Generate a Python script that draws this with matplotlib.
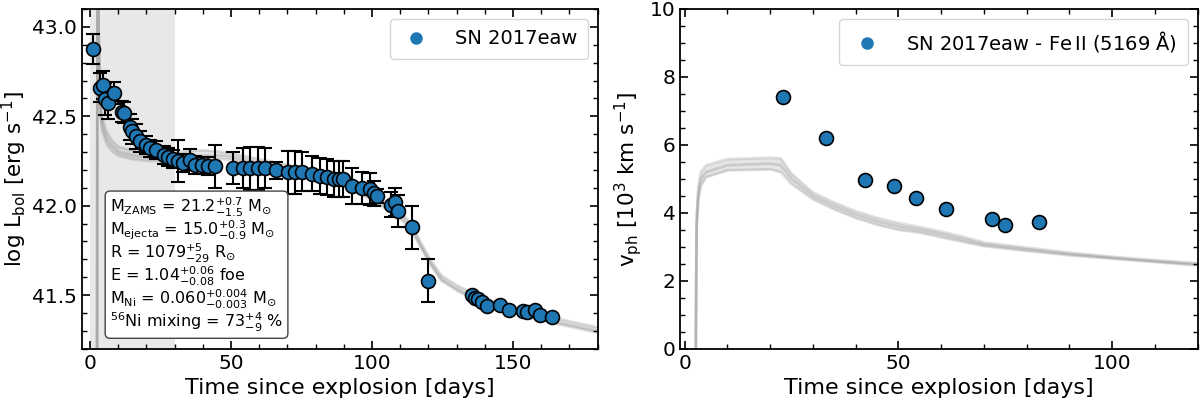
import matplotlib
matplotlib.use('Agg')
import matplotlib.pyplot as plt
from matplotlib.lines import Line2D
from matplotlib.ticker import MultipleLocator
import numpy as np

# bolometric light curve of SN 2017eaw
lc_t = [1.2, 3.5, 4.5, 5.3, 6.2, 8.4, 11.2, 12.2, 14.2, 15.0, 16.2, 17.7, 19.7,
        21.3, 23.3, 26.3, 27.8, 29.5, 31.3, 33.1, 35.5, 37.2, 39.6, 41.9, 44.3,
        50.8, 54.4, 56.7, 59.7, 62.1, 65.8, 70.3, 72.7, 75.3, 78.6, 81.5, 84.0,
        86.5, 88.3, 89.8, 92.8, 96.3, 99.3, 100.8, 101.6, 106.9, 108.2, 109.1,
        114.0, 120.0, 135.3, 136.5, 137.7, 138.9, 140.6, 145.4, 148.6, 153.7,
        154.8, 157.8, 159.6, 163.7]
lc_L = [42.876, 42.66, 42.675, 42.595, 42.573, 42.63, 42.526, 42.52, 42.44,
        42.415, 42.387, 42.36, 42.34, 42.32, 42.31, 42.285, 42.27, 42.26, 42.25,
        42.24, 42.257, 42.23, 42.225, 42.224, 42.22, 42.21, 42.21, 42.21, 42.21,
        42.21, 42.197, 42.186, 42.186, 42.19, 42.18, 42.167, 42.16, 42.15, 42.15,
        42.15, 42.11, 42.10, 42.094, 42.07, 42.056, 42.006, 42.02, 41.97, 41.88,
        41.58, 41.50, 41.486, 41.477, 41.46, 41.44, 41.445, 41.417, 41.41, 41.406,
        41.415, 41.39, 41.378]
lc_err = [0.085, 0.08, 0.08, 0.09, 0.09, 0.06, 0.06, 0.06, 0.07, 0.07, 0.07,
          0.06, 0.05, 0.05, 0.05, 0.05, 0.05, 0.05, 0.12, 0.05, 0.06, 0.05, 0.05,
          0.05, 0.12, 0.09, 0.11, 0.12, 0.12, 0.11, 0.05, 0.12, 0.12, 0.11, 0.10,
          0.10, 0.10, 0.10, 0.10, 0.10, 0.10, 0.09, 0.09, 0.07, 0.04, 0.07, 0.08,
          0.09, 0.12, 0.12, 0, 0, 0, 0, 0, 0, 0, 0, 0, 0, 0, 0]

# Fe II 5169 velocities
vel_t = [23.1, 33.1, 42.1, 48.9, 54.1, 61.1, 72.0, 75.0, 83.0]
vel_v = [7.40, 6.19, 4.96, 4.79, 4.44, 4.11, 3.81, 3.65, 3.73]

# best-fitting model bundle (lower / middle / upper envelope)
mod_lc_t = [2.4, 2.7, 3.0, 3.5, 4.2, 6.0, 8.0, 10.0, 15.0, 20.0, 25.0, 30.0,
            40.0, 48.0, 60.0, 70.0, 80.0, 88.0, 92.7, 100.0, 105.0, 109.3, 114.0,
            117.5, 120.7, 124.6, 130.6, 140.2, 156.5, 180.0]
mod_lc_lo = [40.0, 44.0, 43.0, 42.55, 42.42, 42.34, 42.30, 42.28, 42.26, 42.25,
             42.25, 42.25, 42.26, 42.26, 42.23, 42.20, 42.17, 42.13, 42.09, 42.03,
             41.98, 41.94, 41.86, 41.76, 41.67, 41.58, 41.52, 41.45, 41.37, 41.29]
mod_lc_mid = [40.0, 44.0, 43.0, 42.58, 42.46, 42.37, 42.33, 42.30, 42.28, 42.27,
              42.27, 42.27, 42.28, 42.28, 42.24, 42.21, 42.18, 42.14, 42.10, 42.04,
              41.99, 41.96, 41.88, 41.77, 41.68, 41.59, 41.53, 41.46, 41.38, 41.30]
mod_lc_hi = [40.0, 44.0, 43.0, 42.62, 42.50, 42.41, 42.36, 42.33, 42.31, 42.30,
             42.30, 42.30, 42.31, 42.30, 42.26, 42.23, 42.19, 42.16, 42.12, 42.06,
             42.01, 41.98, 41.90, 41.79, 41.70, 41.61, 41.55, 41.48, 41.40, 41.32]

mod_v_t = [2.6, 2.8, 3.2, 3.8, 5.0, 10.0, 20.0, 22.5, 25.0, 30.0, 35.0, 40.0,
           45.0, 50.0, 55.0, 60.0, 65.0, 70.0, 80.0, 90.0, 100.0, 110.0, 120.0]
mod_v_lo = [0.0, 3.5, 4.4, 4.8, 5.05, 5.25, 5.28, 5.2, 4.85, 4.4, 4.1, 3.85,
            3.65, 3.5, 3.42, 3.28, 3.15, 3.02, 2.88, 2.75, 2.65, 2.55, 2.45]
mod_v_mid = [0.0, 3.7, 4.6, 5.0, 5.2, 5.4, 5.45, 5.4, 5.0, 4.5, 4.2, 3.95,
             3.75, 3.6, 3.5, 3.37, 3.22, 3.07, 2.93, 2.79, 2.68, 2.58, 2.49]
mod_v_hi = [0.0, 3.9, 4.8, 5.2, 5.4, 5.58, 5.62, 5.6, 5.15, 4.6, 4.3, 4.05,
            3.85, 3.7, 3.58, 3.45, 3.3, 3.13, 2.98, 2.83, 2.71, 2.61, 2.52]

params = [r'M$_{\rm ZAMS}$ = 21.2$^{+0.7}_{-1.5}$ M$_{\odot}$',
          r'M$_{\rm ejecta}$ = 15.0$^{+0.3}_{-0.9}$ M$_{\odot}$',
          r'R = 1079$^{+5}_{-29}$ R$_{\odot}$',
          r'E = 1.04$^{+0.06}_{-0.08}$ foe',
          r'M$_{\rm Ni}$ = 0.060$^{+0.004}_{-0.003}$ M$_{\odot}$',
          r'$^{56}$Ni mixing = 73$^{+4}_{-9}$ %']


def style_axis(ax, xmin, ymin):
    ax.xaxis.set_major_locator(MultipleLocator(50))
    ax.xaxis.set_minor_locator(MultipleLocator(xmin))
    ax.yaxis.set_minor_locator(MultipleLocator(ymin))
    ax.tick_params(which='both', direction='in', top=True, right=True,
                   labelsize=14.5)
    ax.tick_params(which='major', length=6, width=1.2)
    ax.tick_params(which='minor', length=3.5, width=1)
    for s in ax.spines.values():
        s.set_linewidth(1.3)


def draw_bundle(ax, t, lo, mid, hi):
    ax.fill_between(t, lo, hi, color='gray', alpha=0.2, lw=0, zorder=1)
    for m in [lo, mid, hi]:
        ax.plot(t, m, color='gray', alpha=0.25, lw=2, zorder=1)


fig = plt.figure(figsize=(12, 4.07), dpi=100)
ax1 = fig.add_axes([0.068, 0.143, 0.43, 0.835])
ax2 = fig.add_axes([0.567, 0.143, 0.431, 0.835])

# left: light curve
ax1.axvspan(0, 30, color='lightgray', alpha=0.5, lw=0)
draw_bundle(ax1, mod_lc_t, mod_lc_lo, mod_lc_mid, mod_lc_hi)
err = np.array(lc_err)
has_err = err > 0
ax1.errorbar(np.array(lc_t)[has_err], np.array(lc_L)[has_err], yerr=err[has_err],
             fmt='none', ecolor='black', elinewidth=1.5, capsize=5,
             capthick=1.5, zorder=2)
ax1.plot(lc_t, lc_L, 'o', color='#1f77b4', mec='black', mew=1.2, ms=10,
         ls='none', zorder=3)
ax1.set_xlim(-3, 180)
ax1.set_ylim(41.2, 43.1)
ax1.yaxis.set_major_locator(MultipleLocator(0.5))
style_axis(ax1, 10, 0.1)
ax1.set_xlabel('Time since explosion [days]', fontsize=16)
ax1.set_ylabel(r'log L$_{\rm bol}$ [erg s$^{-1}$]', fontsize=15.5, labelpad=2)
h1 = Line2D([], [], marker='o', color='#1f77b4', ls='none', ms=8)
ax1.legend([h1], ['SN 2017eaw'], loc='upper right', fontsize=14,
           handlelength=1.6, handletextpad=1.2, borderpad=0.55)
ax1.text(0.055, 0.045, '\n'.join(params), transform=ax1.transAxes,
         fontsize=11.5, ha='left', va='bottom', linespacing=0.98,
         bbox=dict(boxstyle='round,pad=0.3', facecolor='white',
                   edgecolor='#444444', lw=1), zorder=5)

# right: photospheric velocity
draw_bundle(ax2, mod_v_t, mod_v_lo, mod_v_mid, mod_v_hi)
ax2.plot(vel_t, vel_v, 'o', color='#1f77b4', mec='black', mew=1.2, ms=10,
         ls='none', zorder=3)
ax2.set_xlim(-1, 120)
ax2.set_ylim(0, 10)
ax2.yaxis.set_major_locator(MultipleLocator(2))
style_axis(ax2, 10, 0.5)
ax2.set_xlabel('Time since explosion [days]', fontsize=16)
ax2.set_ylabel(r'v$_{\rm ph}$ [10$^3$ km s$^{-1}$]', fontsize=15.5)
h2 = Line2D([], [], marker='o', color='#1f77b4', ls='none', ms=8)
ax2.legend([h2], [r'SN 2017eaw - Fe$\,$II (5169 Å)'], loc='upper right',
           fontsize=14, handlelength=1.8, handletextpad=1.1, borderpad=0.55)

fig.savefig('out.png', dpi=100)
